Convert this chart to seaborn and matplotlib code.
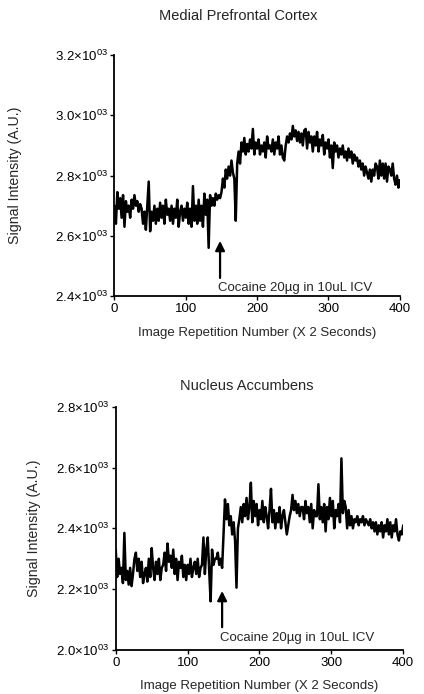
import numpy as np
import pandas as pd
import seaborn as sns
import matplotlib
matplotlib.use('Agg')
import matplotlib.pyplot as plt
from matplotlib.ticker import FuncFormatter

# repetition numbers, sampled every 2 images
reps = np.arange(0, 401, 2)

# Medial prefrontal cortex signal (A.U.)
mpfc = [
    2700, 2640, 2745, 2690, 2725, 2660, 2735, 2630, 2715, 2680,
    2700, 2660, 2720, 2690, 2735, 2700, 2715, 2680, 2705, 2690,
    2640, 2680, 2620, 2700, 2780, 2615, 2680, 2650, 2700, 2640,
    2690, 2650, 2710, 2660, 2700, 2640, 2720, 2670, 2690, 2650,
    2700, 2640, 2690, 2660, 2720, 2630, 2680, 2700, 2650, 2690,
    2660, 2710, 2640, 2690, 2630, 2765, 2650, 2700, 2640, 2720,
    2650, 2700, 2630, 2740, 2670, 2720, 2560, 2735, 2700, 2725,
    2700, 2740, 2720, 2735, 2725, 2745, 2790, 2760, 2820, 2790,
    2830, 2800, 2850, 2810, 2790, 2650, 2840, 2880, 2840, 2910,
    2880, 2925, 2870, 2905, 2880, 2920, 2890, 2955, 2870, 2910,
    2890, 2920, 2870, 2900, 2880, 2910, 2860, 2930, 2890, 2900,
    2880, 2920, 2870, 2910, 2890, 2930, 2870, 2900, 2860, 2850,
    2900, 2930, 2910, 2940, 2920, 2965, 2930, 2950, 2915, 2945,
    2910, 2940, 2900, 2950, 2955, 2890, 2945, 2910, 2930, 2880,
    2930, 2900, 2945, 2880, 2920, 2900, 2935, 2870, 2910, 2890,
    2920, 2860, 2900, 2825, 2910, 2880, 2900, 2860, 2890, 2870,
    2900, 2860, 2880, 2850, 2890, 2860, 2880, 2840, 2870, 2850,
    2860, 2830, 2850, 2820, 2840, 2800, 2830, 2810, 2790, 2820,
    2780, 2820, 2800, 2840, 2830, 2790, 2850, 2800, 2840, 2790,
    2840, 2780, 2830, 2820, 2800, 2840, 2790, 2770, 2800, 2760,
    2785,
]

# Nucleus accumbens signal (A.U.)
nac = [
    2330, 2240, 2300, 2250, 2270, 2220, 2385, 2230, 2260, 2215,
    2270, 2210, 2250, 2300, 2320, 2260, 2300, 2240, 2290, 2220,
    2250, 2270, 2225, 2300, 2240, 2335, 2270, 2230, 2290, 2250,
    2300, 2230, 2270, 2280, 2320, 2260, 2350, 2290, 2310, 2270,
    2330, 2250, 2300, 2230, 2290, 2270, 2310, 2240, 2280, 2230,
    2280, 2250, 2300, 2240, 2270, 2290, 2250, 2300, 2240, 2270,
    2280, 2370, 2250, 2330, 2370, 2260, 2160, 2330, 2280, 2300,
    2300, 2320, 2280, 2300, 2270, 2380, 2495, 2430, 2480, 2410,
    2440, 2380, 2420, 2360, 2205, 2400, 2430, 2470, 2420, 2480,
    2440, 2500, 2430, 2470, 2550, 2420, 2490, 2440, 2480, 2410,
    2460, 2430, 2490, 2420, 2470, 2440, 2400, 2460, 2530, 2420,
    2460, 2400, 2450, 2420, 2470, 2400, 2440, 2460, 2420, 2380,
    2410, 2440, 2460, 2510, 2460, 2490, 2450, 2480, 2440, 2470,
    2470, 2430, 2490, 2450, 2470, 2420, 2480, 2400, 2460, 2440,
    2440, 2545, 2430, 2470, 2420, 2480, 2390, 2470, 2430, 2500,
    2440, 2490, 2400, 2460, 2440, 2480, 2420, 2630, 2450, 2490,
    2470, 2400, 2460, 2410, 2440, 2400, 2430, 2420, 2440, 2410,
    2430, 2420, 2440, 2410, 2430, 2420, 2410, 2430, 2400, 2420,
    2390, 2420, 2380, 2410, 2390, 2420, 2370, 2410, 2390, 2430,
    2380, 2420, 2370, 2410, 2390, 2430, 2380, 2360, 2390, 2380,
    2410,
]

sns.set_style('ticks')
plt.rcParams['font.family'] = ['Liberation Sans', 'DejaVu Sans']
plt.rcParams['mathtext.fontset'] = 'custom'
plt.rcParams['mathtext.rm'] = 'Liberation Sans'

fig = plt.figure(figsize=(4.24, 6.94), dpi=100)
ax1 = fig.add_axes([0.270, 0.5735, 0.673, 0.347])
ax2 = fig.add_axes([0.273, 0.0634, 0.678, 0.3506])


def sci(v, pos):
    return r'$\mathregular{%.1f{\times}10^{03}}$' % (v / 1000)


panels = [
    (ax1, mpfc, (2400, 3200), 2583, 2460, 2427, -0.324, -0.129),
    (ax2, nac, (2000, 2800), 2194, 2075, 2039, -0.26, -0.123),
]

for ax, vals, ylim, tip, tail, txt_y, ylab_x, xlab_y in panels:
    df = pd.DataFrame({'rep': reps, 'signal': vals})
    sns.lineplot(data=df, x='rep', y='signal', ax=ax, color='black', linewidth=1.8)
    ax.set_xlim(0, 400)
    ax.set_ylim(*ylim)
    ax.set_xticks([0, 100, 200, 300, 400])
    ax.set_yticks(np.arange(ylim[0], ylim[1] + 1, 200))
    ax.yaxis.set_major_formatter(FuncFormatter(sci))
    ax.tick_params(labelsize=9.5, length=3, width=1, pad=2, colors='black')
    sns.despine(ax=ax)
    for s in ['left', 'bottom']:
        ax.spines[s].set_linewidth(1.3)
        ax.spines[s].set_color('black')
    ax.set_ylabel('Signal Intensity (A.U.)', fontsize=10.2)
    ax.set_xlabel('Image Repetition Number (X 2 Seconds)', fontsize=9.5)
    ax.yaxis.set_label_coords(ylab_x, 0.5)
    ax.xaxis.set_label_coords(0.5, xlab_y)
    ax.annotate('', xy=(148, tip), xytext=(148, tail),
                arrowprops=dict(arrowstyle='-|>', color='black', lw=1.6,
                                mutation_scale=14, shrinkA=0, shrinkB=0))
    ax.text(145, txt_y, 'Cocaine 20\u00b5g in 10uL ICV', va='center', fontsize=9.5)

fig.text(238 / 424, 1 - 16 / 694, 'Medial Prefrontal Cortex', ha='center', va='center', fontsize=10.5)
fig.text(247 / 424, 1 - 386 / 694, 'Nucleus Accumbens', ha='center', va='center', fontsize=10.5)

fig.savefig('out.png', dpi=100)
